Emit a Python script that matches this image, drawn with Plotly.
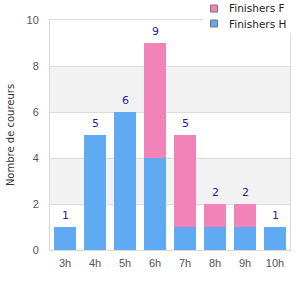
import plotly.graph_objects as go

categories = ["3h", "4h", "5h", "6h", "7h", "8h", "9h", "10h"]
finishers_h = [1, 5, 6, 4, 1, 1, 1, 1]
finishers_f = [0, 0, 0, 5, 4, 1, 1, 0]
totals = [h + f for h, f in zip(finishers_h, finishers_f)]
legend_names = ["Finishers F", "Finishers H"]

BLUE = "#60a9f3"
PINK = "#f283b8"
FONT = "DejaVu Sans"
TICKFONT = "Liberation Sans"

# plot area geometry (pixels) for placing the legend
L, R, T, B = 50, 290, 20, 250
W, H = R - L, B - T
def px(x):
    return (x - L) / W
def py(y):
    return (B - y) / H

fig = go.Figure()
fig.add_trace(go.Bar(x=categories, y=finishers_h, name="Finishers H",
                     marker=dict(color=BLUE, line=dict(width=0))))
fig.add_trace(go.Bar(x=categories, y=finishers_f, name="Finishers F",
                     marker=dict(color=PINK, line=dict(width=0))))

for c, t in zip(categories, totals):
    fig.add_annotation(x=c, y=t, text=str(t), showarrow=False, yanchor="bottom",
                       yshift=3, font=dict(family=FONT, size=11, color="#1f1f99"))

for y0, y1 in [(2, 4), (6, 8)]:
    fig.add_shape(type="rect", xref="paper", yref="y", x0=0, x1=1, y0=y0, y1=y1,
                  fillcolor="#f2f2f2", line=dict(width=0), layer="below")

# manual legend
fig.add_shape(type="rect", xref="paper", yref="paper", x0=px(203), x1=px(301),
              y0=py(33), y1=py(-1), fillcolor="white", line=dict(width=0), layer="above")
for i, (name, col) in enumerate(zip(legend_names, [PINK, BLUE])):
    cy = 8.5 + 15 * i
    fig.add_shape(type="rect", xref="paper", yref="paper", x0=px(210.5), x1=px(217.5),
                  y0=py(cy + 3.5), y1=py(cy - 3.5), fillcolor=col,
                  line=dict(color="#777777", width=1), layer="above")
    fig.add_annotation(xref="paper", yref="paper", x=px(227), y=py(cy), text=name,
                       xanchor="left", yanchor="middle", showarrow=False,
                       font=dict(family=FONT, size=10.5, color="#222222"))

fig.update_layout(
    width=300, height=300,
    margin=dict(l=L, r=300 - R, t=T, b=300 - B),
    barmode="stack", bargap=0.27, showlegend=False,
    plot_bgcolor="white", paper_bgcolor="white",
    font=dict(family=FONT, size=11, color="#555555"),
    xaxis=dict(showline=True, mirror=True, linecolor="#d9d9d9", linewidth=1,
               ticks="", ticklabelstandoff=3,
               tickfont=dict(family=TICKFONT, size=11, color="#555555")),
    yaxis=dict(range=[0, 10], dtick=2, showline=True, mirror=True, linecolor="#d9d9d9",
               gridcolor="#dcdcdc", zeroline=False, ticks="", ticklabelstandoff=8,
               tickfont=dict(family=TICKFONT, size=11, color="#555555"),
               title=dict(text="Nombre de coureurs",
                          font=dict(family=FONT, size=10, color="#333333"),
                          standoff=10)),
)

fig.write_html("out.html")
